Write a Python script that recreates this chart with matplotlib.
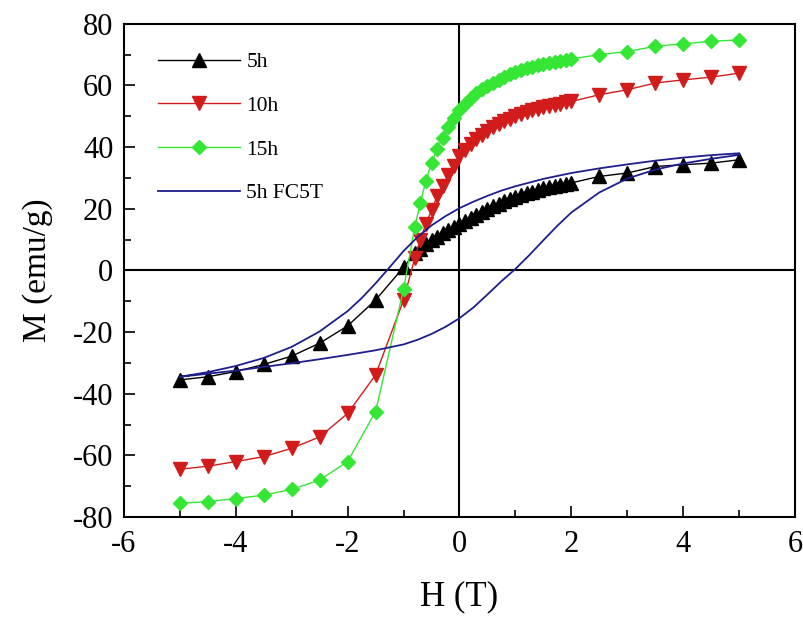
import numpy as np
import matplotlib
matplotlib.use("Agg")
from matplotlib import pyplot as plt
from matplotlib.ticker import MultipleLocator

# field values (T)
h_neg = [-5, -4.5, -4, -3.5, -3, -2.5, -2, -1.5, -1]
h_dense = [-0.8, -0.7, -0.6, -0.5, -0.4, -0.3, -0.2, -0.1, 0.0, 0.1, 0.2, 0.3, 0.4, 0.5,
           0.6, 0.7, 0.8, 0.9, 1.0, 1.1, 1.2, 1.3, 1.4, 1.5, 1.6, 1.7, 1.8, 1.9, 2.0]
h_pos = [2.5, 3, 3.5, 4, 4.5, 5]

m5_neg = [-35.5, -34.5, -32.8, -30.5, -27.8, -23.6, -18, -9.6, 1.0]
m5_dense = [5.5, 7, 8.5, 10, 11, 12, 13, 14, 15, 16, 17, 18, 19, 20,
            20.8, 21.6, 22.4, 23.1, 23.8, 24.4, 25, 25.6, 26.1, 26.6, 27, 27.4, 27.8, 28.1, 28.4]
m5_pos = [30.5, 31.6, 33.7, 34.3, 34.8, 35.9]

m10_neg = [-64.5, -63.5, -62, -60.4, -57.7, -54, -46.4, -33.9, -9.6]
m10_dense = [4, 10, 15, 19.5, 24, 27.5, 31, 34, 37, 39, 41, 42.7, 44, 45.3,
             46.5, 47.5, 48.4, 49.2, 50, 50.7, 51.3, 51.9, 52.4, 52.9, 53.3, 53.7, 54.1, 54.5, 54.8]
m10_pos = [57, 58.6, 60.8, 61.8, 62.7, 64]

m15_neg = [-75.5, -75, -74, -72.9, -71, -68, -62, -45.8, -6.1]
m15_dense = [14, 22, 29, 35, 39.5, 43, 46.5, 49.5, 52, 54, 55.8, 57.4, 58.7, 59.9,
             60.9, 61.9, 62.8, 63.6, 64.3, 65, 65.6, 66.1, 66.6, 67, 67.4, 67.7, 68, 68.3, 68.6]
m15_pos = [70, 71, 72.7, 73.5, 74.3, 74.8]

# 5h FC5T loop, descending branch then ascending branch
h_up = [5, 4.5, 4, 3.5, 3, 2.5, 2, 1.5, 1, 0.75, 0.5, 0.25, 0, -0.25, -0.5, -0.75, -1, -1.25,
        -1.5, -1.75, -2, -2.5, -3, -3.5, -4, -4.5, -5]
m_up = [38, 37.4, 36.6, 35.6, 34.4, 33.1, 31.6, 29.7, 27.3, 25.9, 24.2, 22.3, 20.2, 17.6, 14.6,
        10.8, 6.3, 1.0, -4.2, -9.0, -13.2, -19.8, -24.8, -28.4, -31.0, -33.0, -34.5]
h_low = [-5, -4.5, -4, -3.5, -3, -2.5, -2, -1.5, -1, -0.75, -0.5, -0.25, 0, 0.25, 0.5, 0.75,
         1, 1.25, 1.5, 1.75, 2, 2.5, 3, 3.5, 4, 4.5, 5]
m_low = [-34.5, -33.5, -32.5, -31.3, -30.1, -28.8, -27.4, -25.9, -24.0, -22.5, -20.6, -18.3,
         -15.5, -12.0, -7.8, -3.5, 0.5, 5.0, 9.8, 14.5, 18.8, 25.3, 29.8, 32.7, 34.7, 36.2, 37.5]

plt.rcParams['font.family'] = ['Liberation Serif', 'DejaVu Serif']
plt.rcParams['axes.unicode_minus'] = False

fig = plt.figure(figsize=(8.04, 6.26), dpi=100)
ax = fig.add_axes([0.154, 0.174, 0.835, 0.788])

ax.axhline(0, color="black", lw=1.5, zorder=1)
ax.axvline(0, color="black", lw=1.5, zorder=1)

h_all = h_neg + h_dense + h_pos
ax.plot(h_all, m5_neg + m5_dense + m5_pos, color="black", lw=1, marker="^", ms=10.5, label="5h", zorder=3)
ax.plot(h_all, m10_neg + m10_dense + m10_pos, color="#d21c1c", lw=1, marker="v", ms=10.5, label="10h", zorder=3)
ax.plot(h_all, m15_neg + m15_dense + m15_pos, color="#35e635", lw=1, marker="D", ms=7.5, label="15h", zorder=3)
ax.plot(h_up + h_low, m_up + m_low, color="#1e1e8c", lw=1.3, label="5h FC5T", zorder=4)

ax.set_xlim(-6, 6)
ax.set_ylim(-80, 80)
ax.xaxis.set_major_locator(MultipleLocator(2))
ax.xaxis.set_minor_locator(MultipleLocator(1))
ax.yaxis.set_major_locator(MultipleLocator(20))
ax.yaxis.set_minor_locator(MultipleLocator(10))
ax.tick_params(which="both", direction="in", labelsize=22, width=1.2)
ax.tick_params(which="major", length=8)
ax.tick_params(which="minor", length=5)
ax.tick_params(axis="x", which="major", pad=9)
ax.tick_params(axis="y", which="major", pad=7.5)
for s in ax.spines.values():
    s.set_linewidth(1.5)

ax.set_xlabel("H (T)", fontsize=25, labelpad=16)
ax.set_ylabel("M (emu/g)", fontsize=24, labelpad=14)

ax.legend(loc="upper left", bbox_to_anchor=(0.038, 0.96), frameon=False, fontsize=15.5,
          handlelength=3.8, handletextpad=0.3, labelspacing=1.1, borderaxespad=0)

fig.savefig("out.png", dpi=100)
